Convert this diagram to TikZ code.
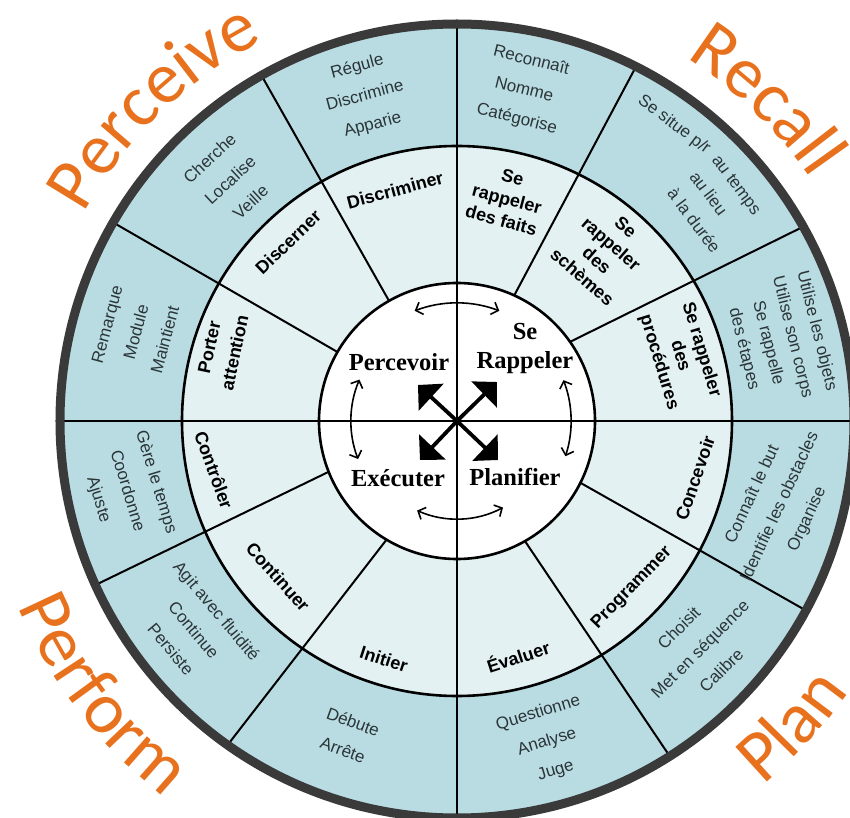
\documentclass[tikz,border=0pt]{standalone}
\usepackage{fontspec}
\setmainfont{Liberation Sans}
\newfontfamily\serfont{Liberation Serif}
\newfontfamily\calfont{Carlito}
\usetikzlibrary{arrows.meta,decorations.text}
\definecolor{ringout}{HTML}{B9DCE3}
\definecolor{ringmid}{HTML}{E3F1F2}
\definecolor{rimgray}{HTML}{3A3A3A}
\definecolor{ora}{HTML}{E8711D}
\definecolor{txtgray}{HTML}{2B3538}
\newcommand{\bigora}{\calfont\fontsize{73bp}{73bp}\selectfont}
\begin{document}
\begin{tikzpicture}[x=1bp,y=1bp,
  outtxt/.style={font=\fontsize{17bp}{30bp}\selectfont, text=txtgray, align=center, inner sep=0pt},
  midtxt/.style={font=\bfseries\fontsize{18bp}{22bp}\selectfont, align=center, inner sep=0pt},
  coretxt/.style={font=\serfont\bfseries\fontsize{24.5bp}{29bp}\selectfont, align=center, inner sep=0pt},
  ringline/.style={line width=2.6bp},
  divline/.style={line width=2bp},
  bigarrow/.style={line width=3.8bp, -{Triangle[length=18bp,width=36bp]}},
  looparrow/.style={line width=1.6bp, {Straight Barb[length=6bp,width=13bp]}-{Straight Barb[length=6bp,width=13bp]}}
]
\useasboundingbox (-457,-397) rectangle (393,421);
\coordinate (O) at (0,0);
% rings
\fill[ringout] (O) circle[radius=397];
\fill[ringmid] (O) circle[radius=275];
\fill[white] (O) circle[radius=138];
% dividers
\draw[divline] (119.5:138) -- (119.5:397);
\draw[divline] (150:138) -- (150:397);
\draw[divline] (65.5:138) -- (63.2:397);
\draw[divline] (35:138) -- (29.3:397);
\draw[divline] (-26.6:138) -- (-28.5:397);
\draw[divline] (-60.5:138) -- (-57.6:397);
\draw[divline] (201.6:138) -- (204.4:397);
\draw[divline] (239.3:138) -- (234.7:397);
% axes
\draw[ringline] (0,-397) -- (0,397);
\draw[ringline] (-397,0) -- (397,0);
% circles
\draw[ringline] (O) circle[radius=138];
\draw[ringline] (O) circle[radius=275];
\draw[rimgray, line width=9bp] (O) circle[radius=397];

% outer ring texts
\node[outtxt, rotate=15] (o1) at (-92,325) {Régule\\Discrimine\\Apparie};
\node[outtxt, rotate=43] (o2) at (-227,241) {Cherche\\Localise\\Veille};
\node[outtxt, rotate=75] (o3) at (-321,89) {Remarque\\Module\\Maintient};
\node[outtxt, rotate=-14] (o4) at (67,331) {Reconnaît\\Nomme\\Catégorise};
\node[outtxt, rotate=-37] (o5a) at (217,296) {Se situe p/r};
\node[outtxt, rotate=-53, align=left, font=\fontsize{17bp}{28bp}\selectfont] (o5b) at (259,217) {au temps\\au lieu\\à la durée};
\node[outtxt, rotate=-76, font=\fontsize{17bp}{25bp}\selectfont] (o6) at (323,81) {Utilise les objets\\Utilise son corps\\Se rappelle\\des étapes};
\node[outtxt, rotate=65] (o7) at (323,-86) {Connaît le but\\Identifie les obstacles\\Organise};
\node[outtxt, rotate=45] (o8) at (243,-228) {Choisit\\Met en séquence\\Calibre};
\node[outtxt, rotate=17] (o9) at (90,-321) {Questionne\\Analyse\\Juge};
\node[outtxt, rotate=-20] (o10) at (-109,-315) {Débute\\Arrête};
\node[outtxt, rotate=-50] (o11) at (-263,-209) {Agit avec fluidité\\Continue\\Persiste};
\node[outtxt, rotate=-73] (o12) at (-330,-70) {Gère le temps\\Coordonne\\Ajuste};

% middle ring texts
\node[midtxt, rotate=15] (m1) at (-62,231) {Discriminer};
\node[midtxt, rotate=44] (m2) at (-169,179) {Discerner};
\node[midtxt, rotate=78, font=\bfseries\fontsize{18bp}{26bp}\selectfont] (m3) at (-235,71) {Porter\\attention};
\node[midtxt, rotate=-15] (m4) at (50,222) {Se\\rappeler\\des faits};
\node[midtxt, rotate=-41] (m5) at (147,169) {Se\\rappeler\\des\\schèmes};
\node[midtxt, rotate=-73] (m6) at (223,65) {Se rappeler\\des\\procédures};
\node[midtxt, rotate=71] (m7) at (238,-57) {Concevoir};
\node[midtxt, rotate=46] (m8) at (175,-167) {Programmer};
\node[midtxt, rotate=18] (m9) at (61,-235) {Évaluer};
\node[midtxt, rotate=-18] (m10) at (-73,-238) {Initier};
\node[midtxt, rotate=-48] (m11) at (-179,-156) {Continuer};
\node[midtxt, rotate=-70] (m12) at (-243,-49) {Contrôler};

% core texts
\node[coretxt] (c1) at (-58,59) {Percevoir};
\node[coretxt] (c2) at (68,73) {Se\\Rappeler};
\node[coretxt] (c3) at (-59,-57) {Exécuter};
\node[coretxt] (c4) at (58,-56) {Planifier};

% big arrows
\coordinate (aNW) at (-39,36);
\coordinate (aNE) at (40,39);
\coordinate (aSE) at (41,-39);
\coordinate (aSW) at (-37,-39);
\draw[bigarrow] (O) -- (aNW);
\draw[bigarrow] (O) -- (aNE);
\draw[bigarrow] (O) -- (aSE);
\draw[bigarrow] (O) -- (aSW);

% cycle arrows
\coordinate (lt) at (111:118);
\coordinate (ll) at (157:106);
\coordinate (lr) at (21:114);
\coordinate (lb) at (246:98);
\draw[looparrow] (lt) arc[start angle=111, end angle=69, radius=118];
\draw[looparrow] (ll) arc[start angle=157, end angle=201, radius=106];
\draw[looparrow] (lr) arc[start angle=21, end angle=-18, radius=114];
\draw[looparrow] (lb) arc[start angle=246, end angle=298, radius=98];

% orange labels
\path[decorate, decoration={text along path, text align=center, text color=ora, text={|\bigora|Perceive}}] (164:427) arc[start angle=164, end angle=104, radius=427];
\path[decorate, decoration={text along path, text align=center, text color=ora, text={|\bigora|Recall}}] (76:429) arc[start angle=76, end angle=16, radius=429];
\path[decorate, decoration={text along path, text align=center, text color=ora, text={|\bigora|Perform}}] (187.5:477) arc[start angle=187.5, end angle=247.5, radius=477];
\path[decorate, decoration={text along path, text align=center, text color=ora, text={|\bigora|Plan}}] (-72.3:476) arc[start angle=-72.3, end angle=-12.3, radius=476];
\end{tikzpicture}
\end{document}
